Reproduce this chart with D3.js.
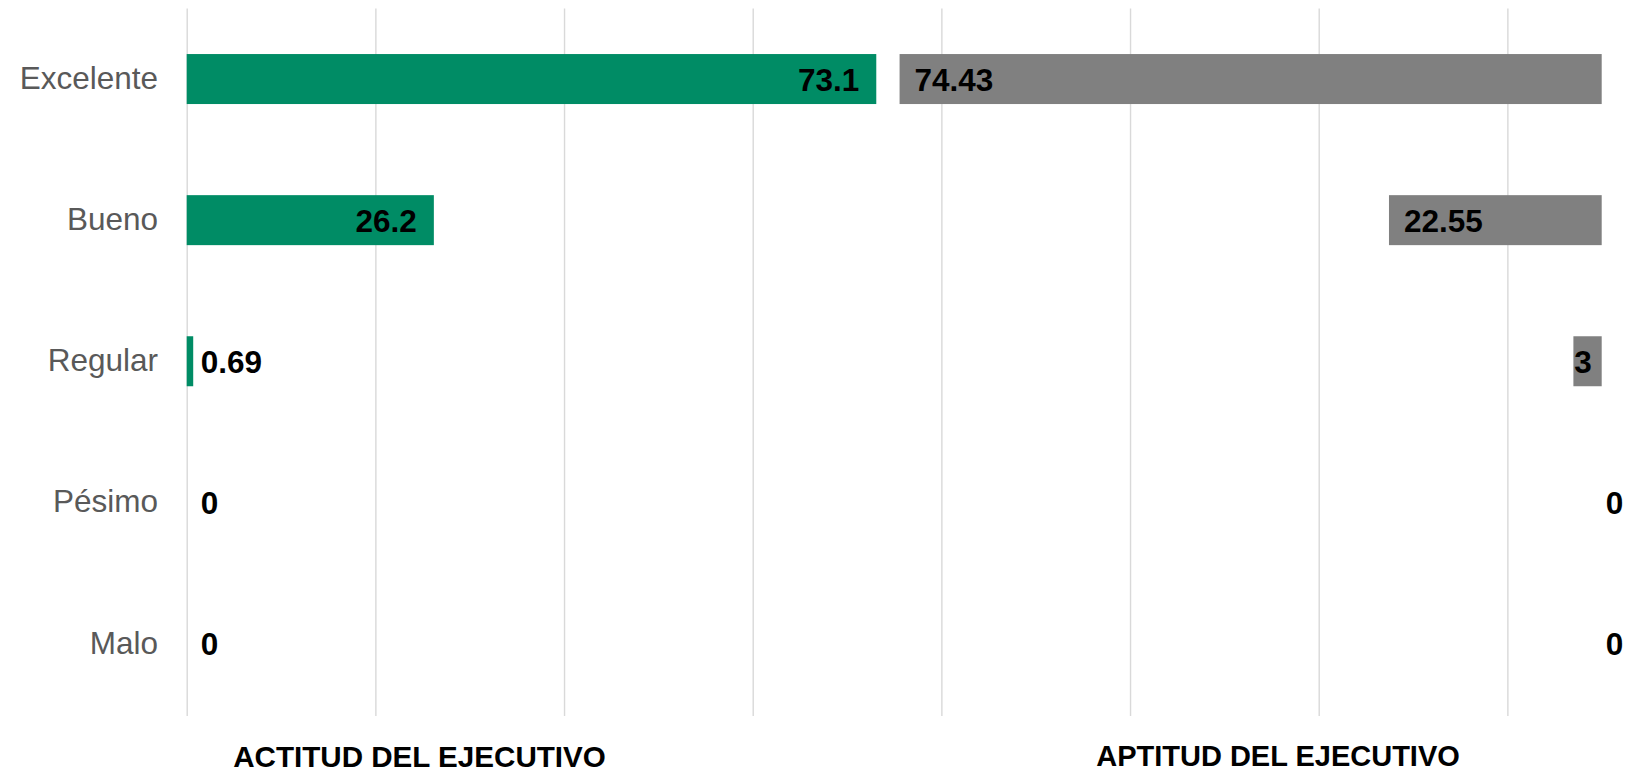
<!DOCTYPE html>
<html>
<head>
<meta charset="utf-8">
<script src="https://cdn.jsdelivr.net/npm/d3@7"></script>
<style>
  html, body { margin: 0; padding: 0; background: #fff; }
  svg { display: block; font-family: Arial, "Liberation Sans", sans-serif; }
</style>
</head>
<body>
<svg id="chart" width="1639" height="772"></svg>
<script>
const categories = ["Excelente", "Bueno", "Regular", "Pésimo", "Malo"];
const actitud = [73.1, 26.2, 0.69, 0, 0];
const aptitud = [74.43, 22.55, 3, 0, 0];
const panelTitles = ["ACTITUD DEL EJECUTIVO", "APTITUD DEL EJECUTIVO"];
const gridTicks = [0, 20, 40, 60, 80, 100, 120, 140];

const width = 1639;
const height = 772;
const plot = { left: 186.7, right: 1601.7, top: 8.5, bottom: 714 };
const xMax = 150; // both panels share one axis, the second one is drawn from the right edge

const svg = d3.select("#chart");

const x = d3.scaleLinear()
  .domain([0, xMax])
  .range([plot.left, plot.right]);

const y = d3.scaleBand()
  .domain(categories)
  .range([plot.top, plot.bottom])
  .paddingInner(0.6457)
  .paddingOuter(0.3228);

// vertical gridlines
svg.append("g")
  .attr("transform", `translate(0,${plot.top})`)
  .call(d3.axisBottom(x).tickValues(gridTicks).tickSize(716 - plot.top).tickFormat(""))
  .call(g => g.select(".domain").remove())
  .call(g => g.selectAll(".tick line").attr("stroke", "#d9d9d9").attr("stroke-width", 1.4));

// category labels
svg.append("g")
  .selectAll("text")
  .data(categories)
  .enter()
  .append("text")
  .attr("x", 158)
  .attr("y", d => y(d) + y.bandwidth() / 2)
  .attr("dy", "0.32em")
  .attr("text-anchor", "end")
  .attr("fill", "#595959")
  .style("font-size", "31.5px")
  .text(d => d);

const leftData = categories.map((c, i) => ({ cat: c, v: actitud[i] }));
const rightData = categories.map((c, i) => ({ cat: c, v: aptitud[i] }));

// left series, grows from 0
svg.append("g")
  .selectAll("rect")
  .data(leftData.filter(d => d.v > 0))
  .enter()
  .append("rect")
  .attr("x", x(0))
  .attr("y", d => y(d.cat))
  .attr("width", d => x(d.v) - x(0))
  .attr("height", y.bandwidth())
  .attr("fill", "#008c65");

// right series, grows from the right edge
svg.append("g")
  .selectAll("rect")
  .data(rightData.filter(d => d.v > 0))
  .enter()
  .append("rect")
  .attr("x", d => x(xMax - d.v))
  .attr("y", d => y(d.cat))
  .attr("width", d => x(xMax) - x(xMax - d.v))
  .attr("height", y.bandwidth())
  .attr("fill", "#808080");

const fmt = v => String(v);

// value labels
const leftLabels = svg.append("g")
  .selectAll("text")
  .data(leftData)
  .enter()
  .append("text")
  .attr("y", d => y(d.cat) + y.bandwidth() / 2)
  .attr("dy", "0.37em")
  .attr("font-weight", "bold")
  .attr("fill", "#000")
  .style("font-size", "31.5px")
  .text(d => fmt(d.v));

leftLabels.each(function (d) {
  const w = this.getComputedTextLength();
  const barW = x(d.v) - x(0);
  const t = d3.select(this);
  if (barW > w + 32) {
    t.attr("x", x(d.v) - 17).attr("text-anchor", "end");
  } else {
    t.attr("x", x(0) + 14).attr("text-anchor", "start");
  }
});

const rightLabels = svg.append("g")
  .selectAll("text")
  .data(rightData)
  .enter()
  .append("text")
  .attr("y", d => y(d.cat) + y.bandwidth() / 2)
  .attr("dy", "0.37em")
  .attr("font-weight", "bold")
  .attr("fill", "#000")
  .style("font-size", "31.5px")
  .text(d => fmt(d.v));

rightLabels.each(function (d) {
  const w = this.getComputedTextLength();
  const barW = x(xMax) - x(xMax - d.v);
  const t = d3.select(this);
  if (barW > w + 32) {
    t.attr("x", x(xMax - d.v) + 15).attr("text-anchor", "start");
  } else if (d.v > 0) {
    t.attr("x", x(xMax) - 10).attr("text-anchor", "end");
  } else {
    t.attr("x", x(xMax) + 4).attr("text-anchor", "start");
  }
});

// panel titles
svg.append("g")
  .selectAll("text")
  .data(panelTitles)
  .enter()
  .append("text")
  .attr("x", (d, i) => i === 0 ? 419.5 : 1278)
  .attr("y", (d, i) => i === 0 ? 767.3 : 766)
  .attr("text-anchor", "middle")
  .attr("font-weight", "bold")
  .attr("fill", "#000")
  .style("font-size", (d, i) => i === 0 ? "29.6px" : "29px")
  .text(d => d);
</script>
</body>
</html>
